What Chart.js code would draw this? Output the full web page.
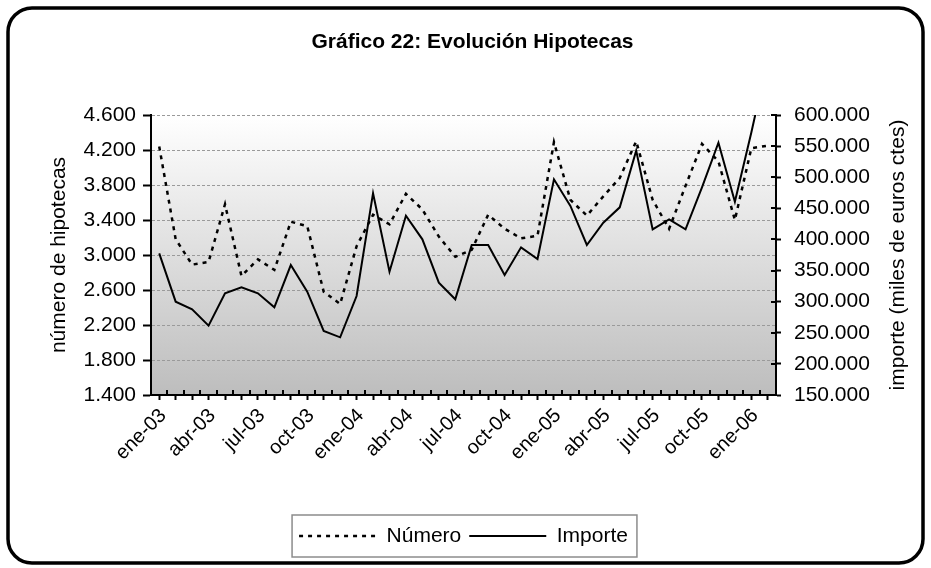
<!DOCTYPE html>
<html>
<head>
<meta charset="utf-8">
<script src="https://cdn.jsdelivr.net/npm/chart.js@4/dist/chart.umd.min.js"></script>
<style>
	html, body { margin: 0; padding: 0; background: #ffffff; }
	#wrap { width: 931px; height: 568px; position: relative; }
</style>
</head>
<body>
<div id="wrap"><canvas id="chart"></canvas></div>
<script>
// datos
const titleText = 'Gráfico 22: Evolución Hipotecas';
const leftTitle = 'número de hipotecas';
const rightTitle = 'importe (miles de euros ctes)';

const categories = [
	'ene-03', 'feb-03', 'mar-03', 'abr-03', 'may-03', 'jun-03', 'jul-03', 'ago-03', 'sep-03', 'oct-03', 'nov-03', 'dic-03',
	'ene-04', 'feb-04', 'mar-04', 'abr-04', 'may-04', 'jun-04', 'jul-04', 'ago-04', 'sep-04', 'oct-04', 'nov-04', 'dic-04',
	'ene-05', 'feb-05', 'mar-05', 'abr-05', 'may-05', 'jun-05', 'jul-05', 'ago-05', 'sep-05', 'oct-05', 'nov-05', 'dic-05',
	'ene-06', 'feb-06',
];

const numero = [
	4240, 3180, 2890, 2920, 3580, 2760, 2950, 2830, 3380, 3330, 2580, 2440,
	3100, 3460, 3350, 3700, 3520, 3210, 2980, 3060, 3460, 3300, 3190, 3220,
	4290, 3630, 3450, 3670, 3880, 4300, 3630, 3300, 3790, 4270, 4070, 3400,
	4220, 4250,
];

const importe = [
	377700, 300000, 287700, 261400, 313400, 323100, 313400, 291000, 358900, 316000, 252900, 242700,
	309100, 474200, 348200, 438200, 400200, 330500, 303800, 391100, 391100, 342900, 387300, 368600,
	496600, 453800, 391100, 427000, 451600, 542700, 416200, 432300, 416200, 483800, 555500, 460700,
	572000, 690000,
];

const leftTickLabels = ['1.400', '1.800', '2.200', '2.600', '3.000', '3.400', '3.800', '4.200', '4.600'];
const rightTickLabels = ['150.000', '200.000', '250.000', '300.000', '350.000', '400.000', '450.000', '500.000', '550.000', '600.000'];

const FONT = 'Arial, "Liberation Sans", sans-serif';

// fondo, marco redondeado, degradado del área de trazado
const chartBackground = {
	id: 'chartBackground',
	beforeDraw(chart) {
		const { ctx, chartArea: { left, top, right, bottom } } = chart;
		ctx.save();
		ctx.fillStyle = '#ffffff';
		ctx.fillRect(0, 0, chart.width, chart.height);
		const grad = ctx.createLinearGradient(0, top, 0, bottom);
		grad.addColorStop(0, '#ffffff');
		grad.addColorStop(1, '#bdbdbd');
		ctx.fillStyle = grad;
		ctx.fillRect(left, top, right - left, bottom - top);
		ctx.lineWidth = 3.5;
		ctx.strokeStyle = '#000000';
		ctx.beginPath();
		ctx.roundRect(8, 8, 915, 555, 24);
		ctx.stroke();
		ctx.restore();
	},
};

// marcas interiores de los ejes, títulos de ejes y caja de la leyenda
const chartExtras = {
	id: 'chartExtras',
	afterDraw(chart) {
		const { ctx, chartArea: { left, top, right, bottom } } = chart;
		const x = chart.scales.x;
		const y2 = chart.scales.y2;
		ctx.save();
		ctx.strokeStyle = '#000000';
		ctx.lineWidth = 2;
		ctx.beginPath();
		for (let i = 0; i <= categories.length; i++) {
			const px = Math.round(x.getPixelForValue(i - 0.5));
			ctx.moveTo(px, bottom);
			ctx.lineTo(px, bottom - 5);
		}
		y2.ticks.forEach((t) => {
			const py = Math.round(y2.getPixelForValue(t.value));
			ctx.moveTo(right, py);
			ctx.lineTo(right - 5, py);
		});
		ctx.stroke();

		ctx.fillStyle = '#000000';
		ctx.font = '21px ' + FONT;
		ctx.textAlign = 'center';
		ctx.textBaseline = 'middle';
		const midY = (top + bottom) / 2;
		ctx.save();
		ctx.translate(59, midY);
		ctx.rotate(-Math.PI / 2);
		ctx.fillText(leftTitle, 0, 0);
		ctx.restore();
		ctx.save();
		ctx.translate(898, midY);
		ctx.rotate(-Math.PI / 2);
		ctx.fillText(rightTitle, 0, 0);
		ctx.restore();

		const lg = chart.legend;
		const boxes = lg.legendHitBoxes;
		if (boxes && boxes.length) {
			const first = boxes[0];
			const last = boxes[boxes.length - 1];
			const cy = lg.top + 8 + 10.5;
			ctx.strokeStyle = '#8c8c8c';
			ctx.lineWidth = 1.5;
			ctx.strokeRect(first.left - 7, cy - 21, last.left + last.width + 9 - (first.left - 7), 42);
		}
		ctx.restore();
	},
};

const data = {
	labels: categories,
	datasets: [
		{
			label: 'Número',
			data: numero,
			yAxisID: 'y',
			borderColor: '#000000',
			backgroundColor: '#000000',
			borderWidth: 2.5,
			borderDash: [4, 5],
			pointRadius: 0,
			tension: 0,
		},
		{
			label: 'Importe',
			data: importe,
			yAxisID: 'y2',
			borderColor: '#000000',
			backgroundColor: '#000000',
			borderWidth: 2,
			pointRadius: 0,
			tension: 0,
		},
	],
};

const chartConfig = {
	type: 'line',
	data: data,
	options: {
		responsive: true,
		maintainAspectRatio: false,
		animation: false,
		layout: { padding: { top: 10, left: 40, right: 26, bottom: 11.5 } },
		plugins: {
			title: {
				display: true,
				text: titleText,
				color: '#000000',
				font: { family: FONT, size: 21, weight: 'bold' },
				padding: { top: 20, bottom: 59.8 },
			},
			legend: {
				position: 'bottom',
				fullSize: false,
				labels: {
					usePointStyle: true,
					pointStyle: 'line',
					pointStyleWidth: 77,
					color: '#000000',
					font: { family: FONT, size: 21 },
					padding: 8,
					// la leyenda toma el trazo de la serie (discontinuo / continuo)
					generateLabels: (chart) => {
						const items = Chart.defaults.plugins.legend.labels.generateLabels(chart);
						items.forEach((item) => {
							const ds = chart.data.datasets[item.datasetIndex];
							item.lineDash = ds.borderDash || [];
							item.lineWidth = ds.borderWidth;
							item.strokeStyle = ds.borderColor;
						});
						return items;
					},
				},
			},
			tooltip: { enabled: false },
		},
		scales: {
			x: {
				offset: true,
				border: { display: true, color: '#000000', width: 2 },
				grid: {
					drawOnChartArea: false,
					drawTicks: true,
					tickLength: 5,
					tickColor: '#000000',
					tickWidth: 2,
				},
				ticks: {
					autoSkip: false,
					minRotation: 45,
					maxRotation: 45,
					color: '#000000',
					font: { family: FONT, size: 20 },
					padding: 4,
					labelOffset: 4,
					callback: (value, index) => (index % 3 === 0 ? categories[index] : ''),
				},
				afterFit: (scale) => { scale.height = 122.5; },
			},
			y: {
				position: 'left',
				min: 1400,
				max: 4600,
				border: { display: true, color: '#000000', width: 2, dash: [3, 2] },
				grid: {
					color: '#9a9a9a',
					lineWidth: 1,
					drawTicks: true,
					tickLength: 8,
					tickColor: '#000000',
					tickWidth: 2,
					tickBorderDash: [],
				},
				ticks: {
					stepSize: 400,
					color: '#000000',
					font: { family: FONT, size: 21 },
					padding: 7,
					callback: (value, index) => leftTickLabels[index],
				},
				afterFit: (scale) => { scale.width = 111; },
			},
			y2: {
				position: 'right',
				min: 150000,
				max: 600000,
				border: { display: true, color: '#000000', width: 2 },
				grid: {
					drawOnChartArea: false,
					drawTicks: true,
					tickLength: 5,
					tickColor: '#000000',
					tickWidth: 2,
				},
				ticks: {
					stepSize: 50000,
					color: '#000000',
					font: { family: FONT, size: 21 },
					padding: 13,
					callback: (value, index) => rightTickLabels[index],
				},
				afterFit: (scale) => { scale.width = 129; },
			},
		},
	},
	plugins: [chartBackground, chartExtras],
};

new Chart(document.getElementById('chart'), chartConfig);
</script>
</body>
</html>
